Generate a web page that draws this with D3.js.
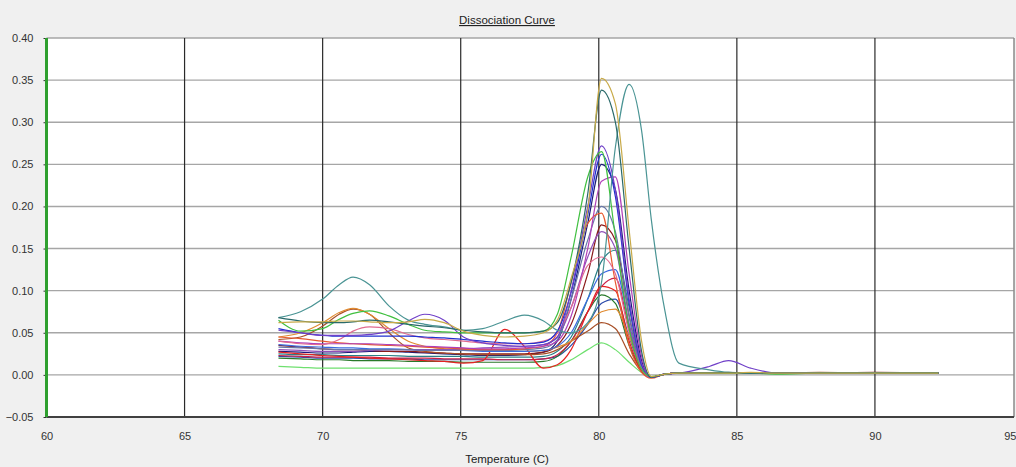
<!DOCTYPE html>
<html>
<head>
<meta charset="utf-8">
<script src="https://cdn.jsdelivr.net/npm/d3@7"></script>
<style>
html,body{margin:0;padding:0;background:#f0f0f0;}
svg{display:block;}
text{font-family:"Liberation Sans",Arial,sans-serif;}
</style>
</head>
<body>
<svg id="chart" width="1016" height="467"></svg>
<script>
// ---------- data ----------
const chartTitle = "Dissociation Curve";
const xAxisTitle = "Temperature (C)";
const xTicks = [60, 65, 70, 75, 80, 85, 90, 95];
const yTicks = [-0.05, 0.00, 0.05, 0.10, 0.15, 0.20, 0.25, 0.30, 0.35, 0.40];
const temps = [68.4,69.2,70,70.6,71.1,71.7,72.4,73.1,73.7,74.4,75.1,75.8,76.6,77.3,78,78.5,79,79.6,80.1,80.6,81.1,81.55,81.9,82.4,82.9,84,84.7,85.5,86.5,88,90,92.3];

const s1  = [0.062,0.063,0.063,0.064,0.064,0.063,0.062,0.063,0.066,0.062,0.052,0.047,0.045,0.046,0.050,0.065,0.115,0.195,0.352,0.322,0.172,0.040,-0.002,0.001,0.002,0.002,0.002,0.003,0.002,0.002,0.002,0.002];
const s2  = [0.068,0.064,0.062,0.062,0.063,0.065,0.063,0.060,0.058,0.056,0.053,0.051,0.050,0.050,0.052,0.062,0.110,0.215,0.338,0.300,0.150,0.028,-0.003,0.001,0.002,0.002,0.003,0.002,0.002,0.002,0.002,0.002];
const s3  = [0.068,0.075,0.090,0.107,0.116,0.107,0.082,0.065,0.060,0.057,0.053,0.055,0.064,0.071,0.064,0.053,0.050,0.062,0.110,0.270,0.345,0.290,0.185,0.075,0.014,0.006,0.003,0.002,0.002,0.002,0.002,0.002];
const s4  = [0.065,0.052,0.055,0.066,0.073,0.076,0.070,0.060,0.053,0.051,0.050,0.050,0.050,0.050,0.052,0.072,0.140,0.235,0.265,0.165,0.055,0.007,-0.002,0.001,0.002,0.002,0.002,0.002,0.001,0.002,0.002,0.002];
const s5  = [0.053,0.050,0.047,0.047,0.047,0.048,0.052,0.064,0.072,0.065,0.045,0.038,0.035,0.034,0.036,0.045,0.100,0.200,0.272,0.220,0.090,0.014,-0.003,0.001,0.002,0.010,0.017,0.008,0.002,0.002,0.002,0.002];
const s6  = [0.055,0.050,0.047,0.046,0.046,0.046,0.046,0.046,0.045,0.044,0.042,0.040,0.038,0.037,0.039,0.052,0.098,0.190,0.262,0.212,0.085,0.012,-0.003,0.001,0.002,0.002,0.002,0.002,0.002,0.002,0.002,0.002];
const s7  = [0.028,0.027,0.026,0.026,0.027,0.028,0.028,0.027,0.026,0.025,0.024,0.023,0.023,0.024,0.027,0.040,0.090,0.180,0.250,0.220,0.100,0.017,-0.003,0.001,0.002,0.002,0.002,0.002,0.002,0.002,0.002,0.002];
const s8  = [0.040,0.038,0.037,0.037,0.037,0.037,0.036,0.035,0.034,0.033,0.032,0.031,0.031,0.032,0.034,0.040,0.070,0.150,0.230,0.235,0.120,0.022,-0.003,0.001,0.002,0.002,0.002,0.002,0.002,0.002,0.002,0.002];
const s9  = [0.045,0.043,0.040,0.038,0.037,0.036,0.035,0.034,0.033,0.032,0.031,0.030,0.030,0.031,0.034,0.050,0.110,0.180,0.192,0.110,0.035,0.003,-0.004,0.001,0.002,0.002,0.002,0.002,0.002,0.002,0.002,0.002];
const s10 = [0.035,0.033,0.031,0.030,0.030,0.029,0.028,0.028,0.027,0.026,0.025,0.025,0.025,0.025,0.027,0.035,0.060,0.120,0.178,0.160,0.070,0.009,-0.003,0.001,0.002,0.002,0.002,0.002,0.002,0.002,0.003,0.002];
const s11 = [0.045,0.050,0.062,0.074,0.079,0.072,0.055,0.040,0.034,0.031,0.030,0.029,0.028,0.028,0.029,0.033,0.040,0.060,0.075,0.078,0.045,0.011,-0.003,0.001,0.002,0.002,0.002,0.002,0.002,0.002,0.002,0.002];
const s12 = [0.042,0.045,0.058,0.072,0.078,0.072,0.050,0.032,0.028,0.026,0.025,0.024,0.024,0.024,0.025,0.030,0.040,0.052,0.062,0.055,0.025,0.004,-0.003,0.001,0.002,0.002,0.002,0.002,0.002,0.003,0.002,0.002];
const s13 = [0.040,0.037,0.036,0.042,0.052,0.057,0.055,0.048,0.044,0.042,0.040,0.038,0.037,0.037,0.040,0.050,0.080,0.130,0.140,0.120,0.050,0.007,-0.003,0.001,0.002,0.002,0.002,0.002,0.002,0.002,0.002,0.002];
const s14 = [0.027,0.025,0.023,0.022,0.021,0.020,0.019,0.018,0.017,0.016,0.014,0.017,0.054,0.034,0.008,0.012,0.030,0.075,0.105,0.100,0.040,0.005,-0.003,0.001,0.002,0.002,0.002,0.002,0.002,0.002,0.002,0.002];
const s15 = [0.025,0.024,0.024,0.023,0.023,0.023,0.023,0.022,0.022,0.022,0.022,0.021,0.021,0.021,0.022,0.028,0.045,0.090,0.135,0.148,0.080,0.012,-0.003,0.001,0.002,0.002,0.002,0.002,0.002,0.002,0.002,0.002];
const s16 = [0.036,0.034,0.033,0.032,0.032,0.031,0.031,0.030,0.030,0.029,0.029,0.028,0.028,0.028,0.029,0.034,0.050,0.090,0.120,0.125,0.060,0.007,-0.003,0.001,0.002,0.002,0.002,0.002,0.002,0.002,0.002,0.002];
const s17 = [0.022,0.021,0.020,0.020,0.020,0.019,0.019,0.019,0.018,0.018,0.018,0.018,0.018,0.018,0.019,0.022,0.035,0.060,0.085,0.090,0.045,0.006,-0.003,0.001,0.002,0.002,0.002,0.002,0.002,0.002,0.002,0.002];
const s18 = [0.010,0.009,0.008,0.008,0.008,0.008,0.008,0.008,0.008,0.008,0.008,0.008,0.008,0.008,0.009,0.011,0.018,0.030,0.038,0.030,0.015,0.003,-0.002,0.001,0.002,0.002,0.002,0.002,0.002,0.002,0.002,0.002];
const s19 = [0.020,0.019,0.018,0.018,0.017,0.017,0.017,0.016,0.016,0.016,0.015,0.015,0.015,0.015,0.016,0.022,0.040,0.075,0.095,0.085,0.035,0.005,-0.003,0.001,0.002,0.002,0.002,0.002,0.002,0.002,0.002,0.002];
const s20 = [0.030,0.029,0.028,0.028,0.028,0.029,0.030,0.030,0.030,0.030,0.031,0.032,0.033,0.034,0.036,0.045,0.080,0.140,0.170,0.150,0.060,0.009,-0.003,0.001,0.002,0.002,0.002,0.002,0.002,0.002,0.002,0.002];
const s21 = [0.023,0.022,0.021,0.021,0.021,0.021,0.020,0.020,0.020,0.019,0.019,0.019,0.018,0.018,0.019,0.024,0.040,0.075,0.105,0.115,0.055,0.007,-0.003,0.001,0.002,0.002,0.002,0.002,0.002,0.002,0.002,0.002];
const s22 = [0.033,0.032,0.031,0.030,0.030,0.030,0.030,0.030,0.029,0.029,0.029,0.029,0.029,0.030,0.032,0.042,0.090,0.160,0.200,0.170,0.070,0.011,-0.003,0.001,0.002,0.002,0.002,0.002,0.002,0.002,0.002,0.002];

const seriesList = [s18,s17,s19,s21,s15,s7,s10,s14,s12,s11,s16,s20,s22,s9,s8,s13,s6,s5,s4,s3,s2,s1];
const seriesColors = ["#6fe06f","#2848a8","#2a7a2a","#c82048","#2a8088","#1a1a78","#8a1a1a","#e52222","#a85028","#e08a30","#3a6ae0","#9050b8","#6878a8","#e85a30","#b040b8","#e06a90","#2030d0","#7040c8","#40c040","#4a9494","#2a6a6a","#c8aa48"];

// ---------- chart ----------
const svg = d3.select("#chart");
const pLeft = 46.5, pRight = 1013, pTop = 38, pBottom = 417, pEdge = 1014;
const x = d3.scaleLinear().domain([60, 95]).range([pLeft, pRight]);
const y = d3.scaleLinear().domain([-0.05, 0.40]).range([pBottom, pTop]);

// plot background
svg.append("rect").attr("x", pLeft).attr("y", pTop)
  .attr("width", pEdge - pLeft).attr("height", pBottom - pTop).attr("fill", "#ffffff");

// horizontal grid
svg.append("g").selectAll("line").data(yTicks.filter(d => d > -0.05)).join("line")
  .attr("x1", pLeft).attr("x2", pEdge)
  .attr("y1", d => y(d)).attr("y2", d => y(d))
  .attr("stroke", "#a6a6a6").attr("stroke-width", 1.4);

// vertical grid
svg.append("g").selectAll("line").data(xTicks.filter(d => d > 60 && d < 95)).join("line")
  .attr("x1", d => x(d)).attr("x2", d => x(d))
  .attr("y1", pTop).attr("y2", pBottom)
  .attr("stroke", "#2a2a2a").attr("stroke-width", 1.2);

// right border
svg.append("line").attr("x1", pEdge).attr("x2", pEdge).attr("y1", pTop).attr("y2", pBottom)
  .attr("stroke", "#8a8a8a").attr("stroke-width", 1.5);

// curves
const line = d3.line()
  .x((d, i) => x(temps[i]))
  .y(d => y(d))
  .curve(d3.curveMonotoneX);

svg.append("g").selectAll("path").data(seriesList).join("path")
  .attr("d", d => line(d))
  .attr("fill", "none")
  .attr("stroke", (d, i) => seriesColors[i])
  .attr("stroke-width", 1.2)
  .attr("stroke-linejoin", "round");

// axes
const yAxis = d3.axisLeft(y).tickValues(yTicks).tickSize(3).tickPadding(10)
  .tickFormat(d3.format(".2f"));
const gy = svg.append("g").attr("transform", `translate(${pLeft},0)`).call(yAxis);
gy.select(".domain").remove();
gy.selectAll(".tick line").attr("stroke", "#333");
gy.selectAll("text").attr("font-size", 11).attr("fill", "#333")
  .attr("font-family", "'Liberation Sans', Arial, sans-serif");

const xAxis = d3.axisBottom(x).tickValues(xTicks).tickSize(0).tickPadding(15)
  .tickFormat(d3.format("d"));
const gx = svg.append("g").attr("transform", `translate(0,${pBottom})`).call(xAxis);
gx.select(".domain").remove();
gx.selectAll("text").attr("font-size", 11).attr("fill", "#333")
  .attr("font-family", "'Liberation Sans', Arial, sans-serif");
// keep the last tick label inside the window
gx.selectAll(".tick text").filter(d => d === 95).attr("text-anchor", "end").attr("dx", "3");

// bottom axis line
svg.append("line").attr("x1", pLeft).attr("x2", pEdge).attr("y1", pBottom).attr("y2", pBottom)
  .attr("stroke", "#404040").attr("stroke-width", 2);
// green left axis
svg.append("line").attr("x1", pLeft).attr("x2", pLeft).attr("y1", pTop).attr("y2", pBottom)
  .attr("stroke", "#2fa02f").attr("stroke-width", 3);

// title
svg.append("text").attr("x", 507).attr("y", 24).attr("text-anchor", "middle")
  .attr("font-size", 11.5).attr("fill", "#222")
  .attr("text-decoration", "underline")
  .text(chartTitle);

// x axis title
svg.append("text").attr("x", 507).attr("y", 463).attr("text-anchor", "middle")
  .attr("font-size", 11.5).attr("fill", "#222")
  .text(xAxisTitle);
</script>
</body>
</html>
